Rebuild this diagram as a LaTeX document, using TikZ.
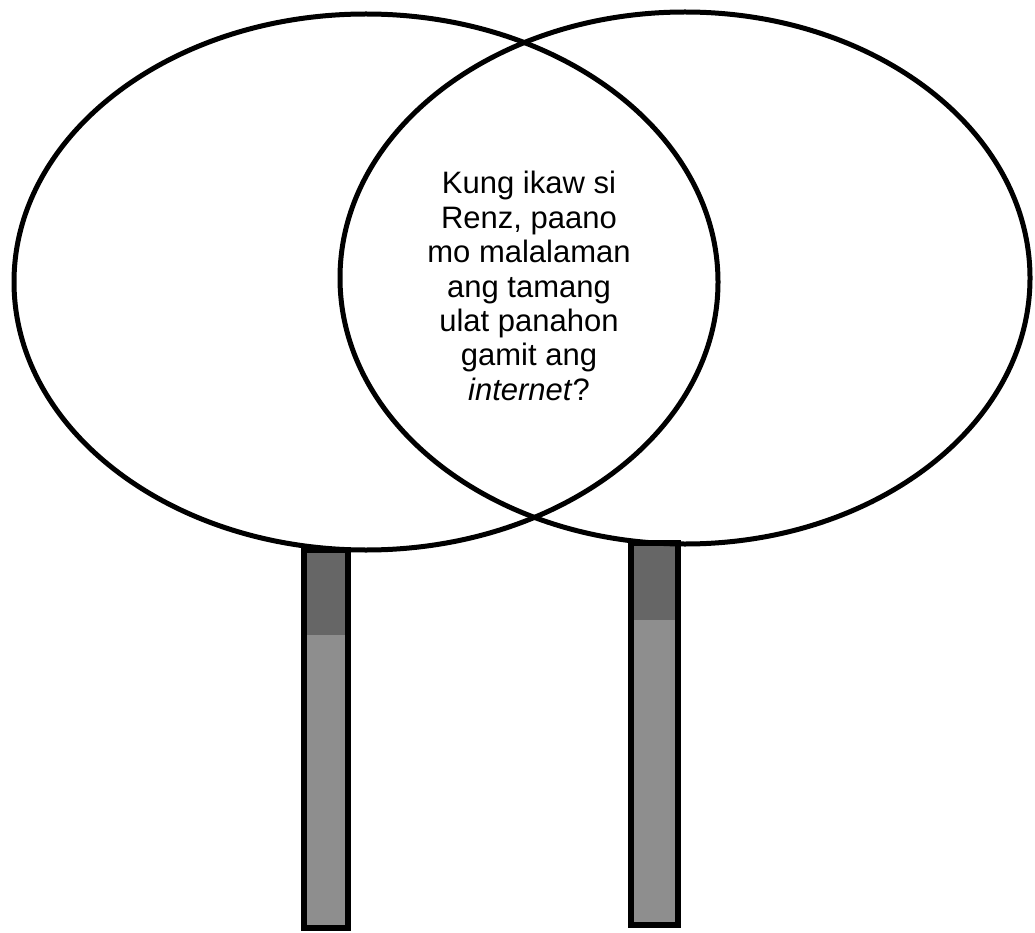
\documentclass[tikz,border=0pt]{standalone}
\usepackage{fontspec}
\setmainfont{Liberation Sans}
\usetikzlibrary{shapes.geometric}
\definecolor{handledark}{HTML}{666666}
\definecolor{handlelight}{HTML}{8E8E8E}
\tikzset{
  fan/.style={draw=black, line width=5pt, ellipse, inner sep=0pt, outer sep=0pt},
  handlebox/.style={draw=black, line width=6pt, rectangle, inner sep=0pt, outer sep=0pt},
  qtext/.style={align=center, font=\fontsize{31}{34.4}\selectfont, inner sep=0pt}
}
\begin{document}
\begin{tikzpicture}[x=1pt,y=-1pt]
\useasboundingbox (0,0) rectangle (1035,933);
% handles
\fill[handlelight] (304,550) rectangle (348,928);
\fill[handledark] (304,550) rectangle (348,635);
\node[handlebox, minimum width=44pt, minimum height=378pt] (lhandle) at (326,739) {};
\fill[handlelight] (631,543) rectangle (678,925);
\fill[handledark] (631,543) rectangle (678,620);
\node[handlebox, minimum width=47pt, minimum height=382pt] (rhandle) at (654.5,734) {};
% fans
\node[fan, minimum width=704pt, minimum height=536pt] (lfan) at (366,282) {};
\node[fan, minimum width=690pt, minimum height=532pt] (rfan) at (685,278) {};
% text
\node[qtext] (q) at (529,286) {Kung ikaw si\\Renz, paano\\mo malalaman\\ang tamang\\ulat panahon\\gamit ang\\\textit{internet}?};
\end{tikzpicture}
\end{document}
